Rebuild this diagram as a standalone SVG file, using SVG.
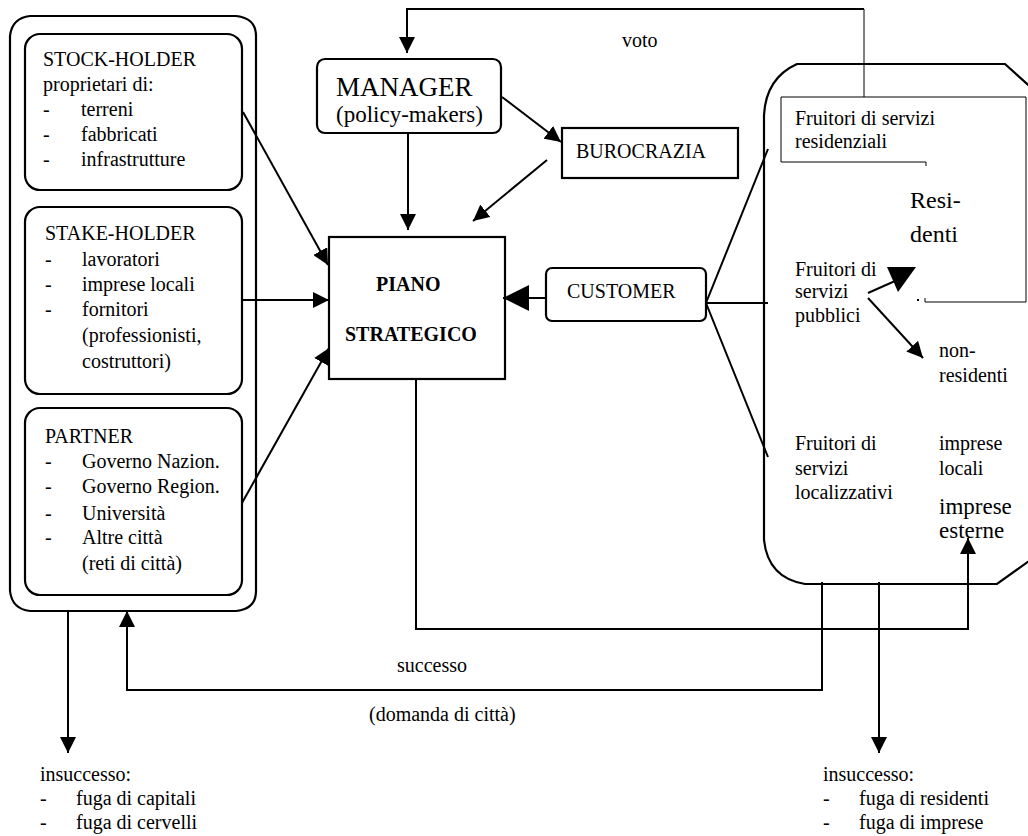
<svg xmlns="http://www.w3.org/2000/svg" width="1028" height="836" viewBox="0 0 1028 836">
<style>
text{font-family:"Liberation Serif","Times New Roman",serif;font-size:20px;fill:#000}
.b{font-weight:bold}
.box{fill:none;stroke:#000;stroke-width:2.2}
.ln{fill:none;stroke:#000;stroke-width:2}
.thin{fill:none;stroke:#000;stroke-width:1}
</style>
<defs>
<marker id="ah" markerUnits="userSpaceOnUse" markerWidth="16" markerHeight="16" refX="16" refY="8" orient="auto"><path d="M0,0 L16,8 L0,16 Z" fill="#000"/></marker>
<marker id="ahb" markerUnits="userSpaceOnUse" markerWidth="26" markerHeight="26" refX="26" refY="13" orient="auto"><path d="M0,0 L26,13 L0,26 Z" fill="#000"/></marker>
</defs>
<rect width="1028" height="836" fill="#fff"/>

<g id="left-group">
<path class="box" d="M30 16 H236 Q256 18 256 36 V591 Q256 609 236 611 H30 Q12 609 10 591 V36 Q12 18 30 16 Z"/>
</g>
<g id="stockholder">
<rect class="box" x="25" y="34" width="217" height="156" rx="15"/>
<text x="43" y="66">STOCK-HOLDER</text>
<text x="43" y="91">proprietari di:</text>
<text x="43" y="116">-</text><text x="81" y="116">terreni</text>
<text x="43" y="141">-</text><text x="81" y="141">fabbricati</text>
<text x="43" y="166">-</text><text x="81" y="166">infrastrutture</text>
</g>
<g id="stakeholder">
<rect class="box" x="25" y="207" width="217" height="187" rx="15"/>
<text x="45" y="240">STAKE-HOLDER</text>
<text x="45" y="266">-</text><text x="82" y="266">lavoratori</text>
<text x="45" y="291">-</text><text x="82" y="291">imprese locali</text>
<text x="45" y="316">-</text><text x="82" y="316">fornitori</text>
<text x="82" y="342">(professionisti,</text>
<text x="82" y="368">costruttori)</text>
</g>
<g id="partner">
<rect class="box" x="25" y="408" width="217" height="187" rx="15"/>
<text x="45" y="443">PARTNER</text>
<text x="45" y="468">-</text><text x="82" y="468">Governo Nazion.</text>
<text x="45" y="493">-</text><text x="82" y="493">Governo Region.</text>
<text x="45" y="520">-</text><text x="82" y="520">Università</text>
<text x="45" y="544">-</text><text x="82" y="544">Altre città</text>
<text x="82" y="570">(reti di città)</text>
</g>
<g id="manager">
<rect class="box" x="317" y="59" width="184" height="74" rx="8"/>
<text x="336" y="96" style="font-size:27px">MANAGER</text>
<text x="336" y="122" style="font-size:23px">(policy-makers)</text>
</g>
<g id="burocrazia">
<rect class="box" x="562" y="128" width="176" height="50"/>
<text x="576" y="158">BUROCRAZIA</text>
</g>
<g id="piano">
<rect class="box" x="329" y="237" width="176" height="142"/>
<text class="b" x="376" y="291">PIANO</text>
<text class="b" x="345" y="341">STRATEGICO</text>
</g>
<g id="customer">
<rect class="box" x="546" y="268" width="160" height="53" rx="6"/>
<text x="567" y="298">CUSTOMER</text>
</g>
<g id="right-group">
<path class="box" d="M764 115 Q766 78 797 64 H1005 L1036 92 V556 L997 584 H805 Q768 578 764 540 Z"/>
<path class="thin" d="M926 166 V162 H781 V97 H1026 V302 H925 V298"/>
<rect x="917" y="299" width="2" height="2" fill="#000"/>
<text x="795" y="125">Fruitori di servizi</text>
<text x="795" y="148">residenziali</text>
<text x="910" y="208" style="font-size:24px">Resi-</text>
<text x="910" y="242" style="font-size:24px">denti</text>
<text x="795" y="276">Fruitori di</text>
<text x="795" y="298">servizi</text>
<text x="795" y="322">pubblici</text>
<text x="939" y="357">non-</text>
<text x="939" y="382">residenti</text>
<text x="795" y="450">Fruitori di</text>
<text x="795" y="475">servizi</text>
<text x="795" y="499">localizzativi</text>
<text x="939" y="450">imprese</text>
<text x="939" y="475">locali</text>
<text x="939" y="514" style="font-size:23px">imprese</text>
<text x="939" y="538" style="font-size:23px">esterne</text>
</g>
<g id="labels">
<text x="622" y="47">voto</text>
<text x="397" y="672">successo</text>
<text x="369" y="721">(domanda di città)</text>
<text x="40" y="781">insuccesso:</text>
<text x="40" y="805">-</text><text x="76" y="805">fuga di capitali</text>
<text x="40" y="829">-</text><text x="76" y="829">fuga di cervelli</text>
<text x="823" y="781">insuccesso:</text>
<text x="823" y="805">-</text><text x="859" y="805">fuga di residenti</text>
<text x="823" y="829">-</text><text x="859" y="829">fuga di imprese</text>
</g>
<g id="connectors">
<path class="ln" d="M864 9 H407 V53" marker-end="url(#ah)"/>
<path class="thin" d="M864 9 V97"/>
<path class="ln" d="M502 97 L561 142" marker-end="url(#ah)"/>
<path class="ln" d="M408 133 V230" marker-end="url(#ah)"/>
<path class="ln" d="M547 160 L473 221" marker-end="url(#ah)"/>
<path class="ln" d="M243 112 L328 265" marker-end="url(#ah)"/>
<path class="ln" d="M243 300 H329" marker-end="url(#ah)"/>
<path class="ln" d="M242 503 L329 348" marker-end="url(#ah)"/>
<path class="ln" d="M546 298 H503" marker-end="url(#ahb)"/>
<path class="ln" d="M768 149 L706 303 L768 457 M706 303 H768"/>
<path class="ln" d="M868 293 L895 281"/>
<path d="M887 267 L916 267 L898 292 Z" fill="#000"/>
<path class="ln" d="M868 298 L923 358" marker-end="url(#ah)"/>
<path class="ln" d="M416 379 V629 H968 V538" marker-end="url(#ah)"/>
<path class="ln" d="M822 582 V690 H127 V611" marker-end="url(#ah)"/>
<path class="ln" d="M68 611 V753" marker-end="url(#ah)"/>
<path class="ln" d="M879 582 V753" marker-end="url(#ah)"/>
</g>
</svg>
